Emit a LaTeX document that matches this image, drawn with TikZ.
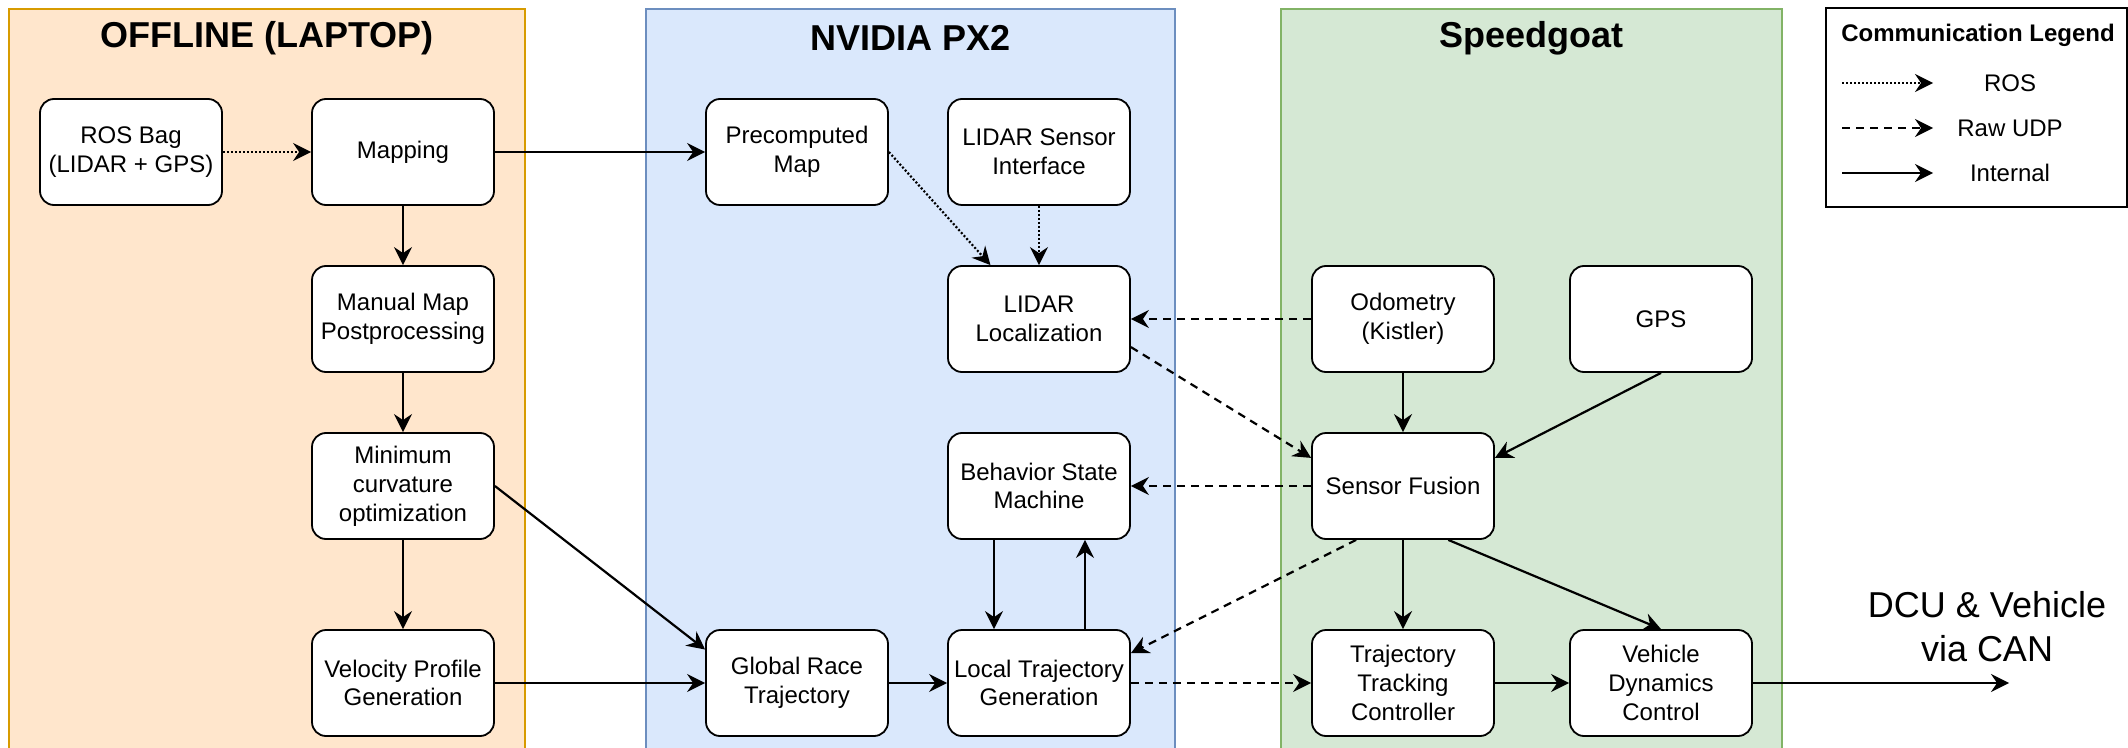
\documentclass[tikz,border=0pt]{standalone}
\usepackage{fontspec}
\setmainfont{Liberation Sans}
\usetikzlibrary{arrows.meta,positioning}
\pgfdeclarelayer{panellayer}
\pgfdeclarelayer{edgelayer}
\pgfdeclarelayer{nodelayer}
\pgfsetlayers{panellayer,edgelayer,nodelayer,main}
\tikzset{font=\fontsize{12}{14.4}\selectfont}
\definecolor{offlinefill}{HTML}{FFE6CC}
\definecolor{offlinedraw}{HTML}{D79B00}
\definecolor{pxfill}{HTML}{DAE8FC}
\definecolor{pxdraw}{HTML}{6C8EBF}
\definecolor{sgfill}{HTML}{D5E8D4}
\definecolor{sgdraw}{HTML}{82B366}
\tikzstyle{block}=[rectangle,rounded corners=7pt,fill=white,draw=black,line width=0.9pt,minimum width=91pt,minimum height=53pt,align=center,inner sep=1pt]
\tikzstyle{none}=[inner sep=0pt]
\tikzstyle{paneltitle}=[inner sep=0pt,font=\fontsize{18}{22}\selectfont\bfseries]
\tikzstyle{panel}=[line width=0.6pt]
\tikzstyle{internal}=[-{Stealth[length=9pt,width=9pt,inset=3pt]},line width=1.1pt]
\tikzstyle{rawudp}=[internal,dash pattern=on 4pt off 3pt]
\tikzstyle{ros}=[internal,dash pattern=on 1pt off 1pt]

\begin{document}
\begin{tikzpicture}[x=0.5pt,y=-0.5pt]
	\useasboundingbox (0,0) rectangle (2128,748);
	\begin{pgfonlayer}{panellayer}
		\draw [style=panel, fill=offlinefill, draw=offlinedraw] (9,9) rectangle (525,760);
		\draw [style=panel, fill=pxfill, draw=pxdraw] (646,9) rectangle (1175,760);
		\draw [style=panel, fill=sgfill, draw=sgdraw] (1281,9) rectangle (1782,760);
		\draw [line width=1.3pt] (1826,8) rectangle (2127,207);
	\end{pgfonlayer}
	\begin{pgfonlayer}{nodelayer}
		\node [style=paneltitle] (offline) at (267,38) {OFFLINE (LAPTOP)};
		\node [style=paneltitle] (px2) at (911,38) {NVIDIA PX2};
		\node [style=paneltitle] (speedgoat) at (1531,38) {Speedgoat};
		% offline
		\node [style=block] (rosbag) at (131,152) {ROS Bag\\(LIDAR + GPS)};
		\node [style=block] (mapping) at (403,152) {Mapping};
		\node [style=block] (manualmap) at (403,319) {Manual Map\\Postprocessing};
		\node [style=block] (mincurv) at (403,486) {Minimum\\curvature\\optimization};
		\node [style=block] (velprofile) at (403,683) {Velocity Profile\\Generation};
		% px2
		\node [style=block] (precomp) at (797,152) {Precomputed\\Map};
		\node [style=block] (lidarsensor) at (1039,152) {LIDAR Sensor\\Interface};
		\node [style=block] (lidarloc) at (1039,319) {LIDAR\\Localization};
		\node [style=block] (behavior) at (1039,486) {Behavior State\\Machine};
		\node [style=block] (globalrace) at (797,683) {Global Race\\Trajectory};
		\node [style=block] (localtraj) at (1039,683) {Local Trajectory\\Generation};
		% speedgoat
		\node [style=block] (odometry) at (1403,319) {Odometry\\(Kistler)};
		\node [style=block] (gps) at (1661,319) {GPS};
		\node [style=block] (fusion) at (1403,486) {Sensor Fusion};
		\node [style=block] (tracking) at (1403,683) {Trajectory\\Tracking\\Controller};
		\node [style=block] (vehdyn) at (1661,683) {Vehicle\\Dynamics\\Control};
		\node [style=none, align=center, font=\fontsize{18}{22}\selectfont] (dcu) at (1987,627) {DCU \& Vehicle\\via CAN};
		\coordinate (canout) at (2009,683);
		% legend
		\node [style=none, font=\fontsize{12}{14}\selectfont\bfseries] (legendtitle) at (1978,35) {Communication Legend};
		\coordinate (rosA) at (1842,83);
		\coordinate (rosB) at (1933,83);
		\coordinate (udpA) at (1842,128);
		\coordinate (udpB) at (1933,128);
		\coordinate (intA) at (1842,173);
		\coordinate (intB) at (1933,173);
		\node [style=none] (rostext) at (2010,83) {ROS};
		\node [style=none] (udptext) at (2010,128) {Raw UDP};
		\node [style=none] (inttext) at (2010,173) {Internal};
	\end{pgfonlayer}
	\begin{pgfonlayer}{edgelayer}
		\draw [style=ros] (rosbag) to (mapping);
		\draw [style=internal] (mapping) to (precomp);
		\draw [style=internal] (mapping) to (manualmap);
		\draw [style=internal] (manualmap) to (mincurv);
		\draw [style=internal] (mincurv) to (velprofile);
		\draw [style=internal] (mincurv.east) to (globalrace.160);
		\draw [style=internal] (velprofile) to (globalrace);
		\draw [style=ros] (precomp.east) to (lidarloc.132);
		\draw [style=ros] (lidarsensor) to (lidarloc);
		\draw [style=rawudp] (odometry) to (lidarloc);
		\draw [style=rawudp] (lidarloc.-17) to (fusion.163);
		\draw [style=rawudp] (fusion) to (behavior);
		\draw [style=internal] ([xshift=-22.5pt]behavior.south) to ([xshift=-22.5pt]localtraj.north);
		\draw [style=internal] ([xshift=23pt]localtraj.north) to ([xshift=23pt]behavior.south);
		\draw [style=rawudp] (fusion.-131) to (localtraj.18);
		\draw [style=internal] (globalrace) to (localtraj);
		\draw [style=rawudp] (localtraj) to (tracking);
		\draw [style=internal] (odometry) to (fusion);
		\draw [style=internal] (gps.south) to (fusion.17);
		\draw [style=internal] (fusion) to (tracking);
		\draw [style=internal] (fusion.-50) to (vehdyn.north);
		\draw [style=internal] (tracking) to (vehdyn);
		\draw [style=internal] (vehdyn.east) to (canout);
		\draw [style=ros] (rosA) to (rosB);
		\draw [style=rawudp] (udpA) to (udpB);
		\draw [style=internal] (intA) to (intB);
	\end{pgfonlayer}
\end{tikzpicture}
\end{document}
